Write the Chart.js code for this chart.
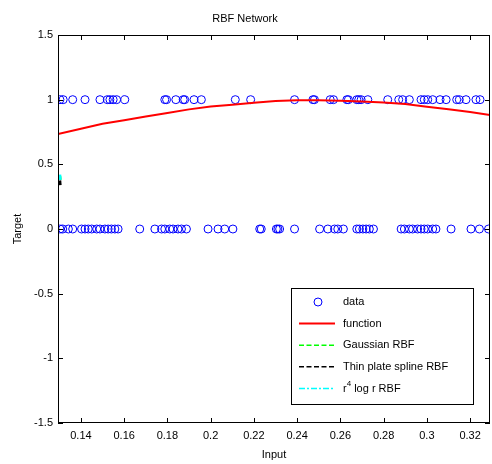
<!DOCTYPE html>
<html>
<head>
<meta charset="utf-8">
<title>RBF Network</title>
<script src="https://cdn.jsdelivr.net/npm/chart.js@4.4.0/dist/chart.umd.min.js"></script>
<style>
  html, body { margin: 0; padding: 0; background: #fff; }
  #wrap { width: 492px; height: 464px; }
</style>
</head>
<body>
<div id="wrap"><canvas id="rbfChart" width="492" height="464"></canvas></div>
<script>
// samples with target 1 and target 0
const inputsAtOne = [
  0.1303, 0.1318, 0.1362, 0.1419, 0.1488, 0.1522, 0.1534, 0.1549, 0.1565, 0.1603,
  0.1788, 0.1796, 0.1839, 0.1873, 0.1880, 0.1923, 0.1957, 0.2114, 0.2185,
  0.2388, 0.2473, 0.2480, 0.2553, 0.2568, 0.2630, 0.2637, 0.2676, 0.2685, 0.2696,
  0.2727, 0.2819, 0.2870, 0.2888, 0.2919, 0.2973, 0.2988, 0.3004, 0.3027, 0.3061,
  0.3089, 0.3138, 0.3150, 0.3181, 0.3227, 0.3246
];
const inputsAtZero = [
  0.1303, 0.1316, 0.1342, 0.1362, 0.1403, 0.1419, 0.1434, 0.1450, 0.1473, 0.1488,
  0.1511, 0.1526, 0.1541, 0.1557, 0.1572, 0.1672, 0.1742, 0.1773, 0.1788, 0.1811,
  0.1826, 0.1849, 0.1865, 0.1888, 0.1988, 0.2034, 0.2065, 0.2103, 0.2227, 0.2234,
  0.2304, 0.2311, 0.2319, 0.2388, 0.2504, 0.2542, 0.2573, 0.2588, 0.2614, 0.2676,
  0.2688, 0.2704, 0.2719, 0.2734, 0.2753, 0.2881, 0.2896, 0.2919, 0.2934, 0.2957,
  0.2973, 0.2988, 0.3004, 0.3027, 0.3042, 0.3112, 0.3204, 0.3243, 0.3285
];

// true function
const functionX = [0.1294, 0.14, 0.15, 0.16, 0.17, 0.18, 0.19, 0.20, 0.21, 0.22, 0.23,
  0.24, 0.25, 0.26, 0.27, 0.28, 0.29, 0.30, 0.31, 0.32, 0.3292];
const functionY = [0.735, 0.775, 0.813, 0.840, 0.870, 0.897, 0.925, 0.948, 0.961, 0.976, 0.990,
  0.995, 0.995, 0.992, 0.985, 0.978, 0.967, 0.945, 0.925, 0.905, 0.882];

// RBF fits (only their ends show inside the axes)
const gaussianX = [0.1302, 0.1304];
const gaussianY = [0.41, 0.38];
const thinPlateX = [0.1302, 0.1304];
const thinPlateY = [0.375, 0.34];
const r4LogRX = [0.1302, 0.1304];
const r4LogRY = [0.42, 0.38];

const xTicks = [0.14, 0.16, 0.18, 0.2, 0.22, 0.24, 0.26, 0.28, 0.3, 0.32];
const xTickLabels = ['0.14', '0.16', '0.18', '0.2', '0.22', '0.24', '0.26', '0.28', '0.3', '0.32'];
const yTicks = [-1.5, -1, -0.5, 0, 0.5, 1, 1.5];
const yTickLabels = ['-1.5', '-1', '-0.5', '0', '0.5', '1', '1.5'];

const xMin = 0.1294, xMax = 0.3292;
const yMin = -1.5, yMax = 1.5;

const FONT = "'Liberation Sans', Arial, Helvetica, sans-serif";

function pairs(xs, ys) {
  return xs.map((x, i) => ({ x: x, y: ys[i] }));
}

const dataPoints = inputsAtOne.map(x => ({ x: x, y: 1 }))
  .concat(inputsAtZero.map(x => ({ x: x, y: 0 })));

// box, inward ticks and the legend, drawn the matlab way
const matlabAxes = {
  id: 'matlabAxes',
  afterDraw(chart) {
    const ctx = chart.ctx;
    const a = chart.chartArea;
    const xs = chart.scales.x, ys = chart.scales.y;
    const tick = 5;
    ctx.save();
    ctx.strokeStyle = '#000';
    ctx.lineWidth = 1;
    ctx.beginPath();
    xTicks.forEach(v => {
      const px = Math.round(xs.getPixelForValue(v)) + 0.5;
      ctx.moveTo(px, a.bottom); ctx.lineTo(px, a.bottom - tick);
      ctx.moveTo(px, a.top); ctx.lineTo(px, a.top + tick);
    });
    yTicks.forEach(v => {
      const py = Math.round(ys.getPixelForValue(v)) + 0.5;
      ctx.moveTo(a.left, py); ctx.lineTo(a.left + tick, py);
      ctx.moveTo(a.right, py); ctx.lineTo(a.right - tick, py);
    });
    ctx.stroke();
    ctx.strokeRect(Math.round(a.left) + 0.5, Math.round(a.top) + 0.5,
      Math.round(a.right - a.left) - 1, Math.round(a.bottom - a.top) - 1);

    // legend
    const box = { x: 291.5, y: 288.5, w: 182, h: 116 };
    ctx.fillStyle = '#fff';
    ctx.fillRect(box.x, box.y, box.w, box.h);
    ctx.strokeRect(box.x, box.y, box.w, box.h);
    const sx0 = 299, sx1 = 335, tx = 343;
    ctx.font = '11px ' + FONT;
    ctx.textBaseline = 'middle';
    ctx.textAlign = 'left';
    chart.data.datasets.forEach((ds, i) => {
      const y = 302 + i * 21.6;
      ctx.save();
      if (ds.showLine) {
        ctx.strokeStyle = ds.borderColor;
        ctx.lineWidth = ds.legendWidth || ds.borderWidth;
        ctx.setLineDash(ds.borderDash || []);
        ctx.beginPath();
        ctx.moveTo(sx0, y); ctx.lineTo(sx1, y);
        ctx.stroke();
      } else {
        ctx.strokeStyle = ds.borderColor;
        ctx.lineWidth = 1;
        ctx.beginPath();
        ctx.arc((sx0 + sx1) / 2 + 1, y, 4, 0, Math.PI * 2);
        ctx.stroke();
      }
      ctx.restore();
      ctx.fillStyle = '#000';
      if (ds.label === 'r4 log r RBF') {
        ctx.fillText('r', tx, y + 1);
        const rw = ctx.measureText('r').width;
        ctx.font = '8px ' + FONT;
        ctx.fillText('4', tx + rw, y - 5);
        const fw = ctx.measureText('4').width;
        ctx.font = '11px ' + FONT;
        ctx.fillText(' log r RBF', tx + rw + fw, y + 1);
      } else {
        ctx.fillText(ds.label, tx, y);
      }
    });
    ctx.restore();
  }
};

const context = document.getElementById('rbfChart').getContext('2d');
new Chart(context, {
  type: 'scatter',
  data: {
    datasets: [{
      label: 'data',
      data: dataPoints,
      showLine: false,
      pointStyle: 'circle',
      pointRadius: 4,
      borderColor: '#0000ff',
      backgroundColor: 'rgba(0,0,0,0)',
      pointBorderWidth: 1,
      clip: 0,
      order: 5
    }, {
      label: 'function',
      data: pairs(functionX, functionY),
      showLine: true,
      borderColor: '#ff0000',
      borderWidth: 2,
      pointRadius: 0,
      tension: 0,
      clip: 0,
      order: 4
    }, {
      label: 'Gaussian RBF',
      data: pairs(gaussianX, gaussianY),
      showLine: true,
      borderColor: '#00ff00',
      borderWidth: 3,
      legendWidth: 1.5,
      borderDash: [5, 2.5],
      pointRadius: 0,
      clip: 0,
      order: 3
    }, {
      label: 'Thin plate spline RBF',
      data: pairs(thinPlateX, thinPlateY),
      showLine: true,
      borderColor: '#000000',
      borderWidth: 3,
      legendWidth: 1.5,
      borderDash: [5, 2.5],
      pointRadius: 0,
      clip: 0,
      order: 2
    }, {
      label: 'r4 log r RBF',
      data: pairs(r4LogRX, r4LogRY),
      showLine: true,
      borderColor: '#00ffff',
      borderWidth: 3,
      legendWidth: 1.5,
      borderDash: [6, 2, 2, 2],
      pointRadius: 0,
      clip: 0,
      order: 1
    }]
  },
  options: {
    responsive: false,
    animation: false,
    layout: { autoPadding: false, padding: { top: 0, right: 2, bottom: 0, left: 0 } },
    plugins: {
      legend: { display: false },
      tooltip: { enabled: false },
      title: {
        display: true,
        text: 'RBF Network',
        color: '#000',
        font: { family: FONT, size: 11, weight: 'normal' },
        padding: { top: 12, bottom: 9.8 }
      }
    },
    scales: {
      x: {
        type: 'linear',
        min: xMin,
        max: xMax,
        afterBuildTicks: s => { s.ticks = xTicks.map(v => ({ value: v })); },
        afterFit: s => { s.height = 41; s.paddingLeft = 0; s.paddingRight = 0; },
        ticks: {
          callback: (v, i) => xTickLabels[i],
          color: '#000',
          font: { family: FONT, size: 11 },
          padding: 6,
          maxRotation: 0,
          autoSkip: false
        },
        grid: { display: false, drawTicks: false },
        border: { display: false },
        title: {
          display: true,
          text: 'Input',
          color: '#000',
          font: { family: FONT, size: 11 },
          padding: { top: 0, bottom: 2.4 }
        }
      },
      y: {
        type: 'linear',
        min: yMin,
        max: yMax,
        afterBuildTicks: s => { s.ticks = yTicks.map(v => ({ value: v })); },
        afterFit: s => { s.width = 58; s.paddingTop = 0; s.paddingBottom = 0; },
        ticks: {
          callback: (v, i) => yTickLabels[i],
          color: '#000',
          font: { family: FONT, size: 11 },
          padding: 5,
          autoSkip: false
        },
        grid: { display: false, drawTicks: false },
        border: { display: false },
        title: {
          display: true,
          text: 'Target',
          color: '#000',
          font: { family: FONT, size: 11 },
          padding: { top: 11.4, bottom: 0 }
        }
      }
    }
  },
  plugins: [matlabAxes]
});
</script>
</body>
</html>
